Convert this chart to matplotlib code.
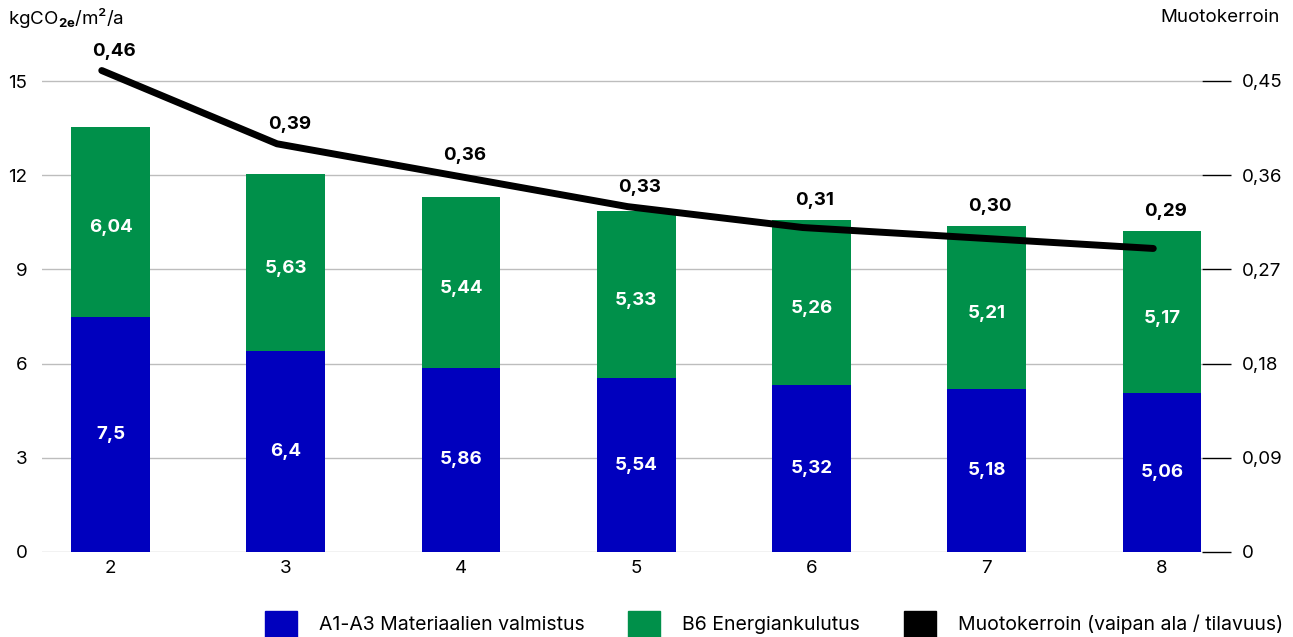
import numpy as np
import matplotlib.pyplot as plt
from matplotlib.patches import Patch

plt.rcParams['font.family'] = ['Inter', 'DejaVu Sans']
plt.rcParams['mathtext.fontset'] = 'custom'
plt.rcParams['mathtext.rm'] = 'Inter'
plt.rcParams['mathtext.bf'] = 'Inter:bold'

# Datat
kerrokset = [2, 3, 4, 5, 6, 7, 8]
materiaalit = [7.5, 6.4, 5.86, 5.54, 5.32, 5.18, 5.06]
energia = [6.04, 5.63, 5.44, 5.33, 5.26, 5.21, 5.17]
muotokerroin = [0.46, 0.39, 0.36, 0.33, 0.31, 0.30, 0.29]

vasen_tikit = [0, 3, 6, 9, 12, 15]
oikea_tikit = [0, 0.09, 0.18, 0.27, 0.36, 0.45]

sininen = '#0000BE'
vihrea = '#00904A'
koko = 13.5
suhde = 0.03  # oikea akseli / vasen akseli

def pilkku(v, des=2):
    if v == 0:
        return '0'
    return f'{v:.{des}f}'.replace('.', ',')

def pilkku_lyhyt(v):
    return f'{v:g}'.replace('.', ',')

fig = plt.figure(figsize=(12.93, 6.37), dpi=100)
W, H = 1293, 637
ax = fig.add_axes([42 / W, 1 - 552 / H, (1202 - 42) / W, (552 - 40) / H])

x = np.array(kerrokset, dtype=float)
ylim_top = 512 / 31.4

# Pylväät
ax.bar(x, materiaalit, width=0.45, color=sininen, zorder=2)
ax.bar(x, energia, width=0.45, bottom=materiaalit, color=vihrea, zorder=2)

for xi, m, e in zip(x, materiaalit, energia):
    ax.text(xi, m / 2, pilkku_lyhyt(m), color='white', fontsize=koko,
            fontweight='bold', ha='center', va='center', zorder=3)
    ax.text(xi, m + e / 2 - 0.2, pilkku(e), color='white', fontsize=koko,
            fontweight='bold', ha='center', va='center', zorder=3)

ax.set_xlim(1.609, 8.228)
ax.set_ylim(0, ylim_top)
ax.set_xticks(x)
ax.set_xticklabels([str(k) for k in kerrokset])
ax.set_yticks(vasen_tikit)
ax.set_yticklabels([str(v) for v in vasen_tikit])
ax.tick_params(axis='y', length=0, pad=10.5, labelsize=koko)
ax.tick_params(axis='x', length=0, pad=6, labelsize=koko)
ax.grid(axis='y', color='#BDBDBD', linewidth=1, zorder=0)
ax.set_axisbelow(True)
for s in ax.spines.values():
    s.set_visible(False)

# Muotokerroin oikealla akselilla
ax2 = ax.twinx()
ax2.set_ylim(0, ylim_top * suhde)
ax2.plot(x - 0.05, muotokerroin, color='black', linewidth=5,
         solid_capstyle='round', solid_joinstyle='round', zorder=4)
ax2.set_yticks(oikea_tikit)
ax2.set_yticklabels([pilkku(v) for v in oikea_tikit])
ax2.tick_params(axis='y', length=21, width=1, color='black', pad=7.5, labelsize=koko)
for s in ax2.spines.values():
    s.set_visible(False)

# Muotokertoimen arvot viivan tai pylvään yläpuolelle
for xi, v, m, e in zip(x, muotokerroin, materiaalit, energia):
    korkein = max(v / suhde, m + e)
    ax2.text(xi + 0.02, (korkein + 0.62) * suhde, pilkku(v), ha='center',
             va='center', fontsize=koko, fontweight='bold', zorder=5)

# Akselien otsikot
fig.text(8 / W, 1 - 18 / H, r'kgCO$_{\mathbf{2e}}$/m²/a', fontsize=koko,
         ha='left', va='center')
fig.text(1280 / W, 1 - 18 / H, 'Muotokerroin', fontsize=koko,
         ha='right', va='center')

# Selite
kahvat = [Patch(color=sininen), Patch(color=vihrea), Patch(color='black')]
nimet = ['A1-A3 Materiaalien valmistus', 'B6 Energiankulutus',
         'Muotokerroin (vaipan ala / tilavuus)']
fig.legend(kahvat, nimet, loc='lower right', bbox_to_anchor=(1283 / W, 0),
           ncol=3, frameon=False, fontsize=14, handlelength=1.66,
           handleheight=1.7, handletextpad=1.12, columnspacing=2.25,
           borderpad=0, borderaxespad=0)

fig.savefig('out.png', dpi=100)
